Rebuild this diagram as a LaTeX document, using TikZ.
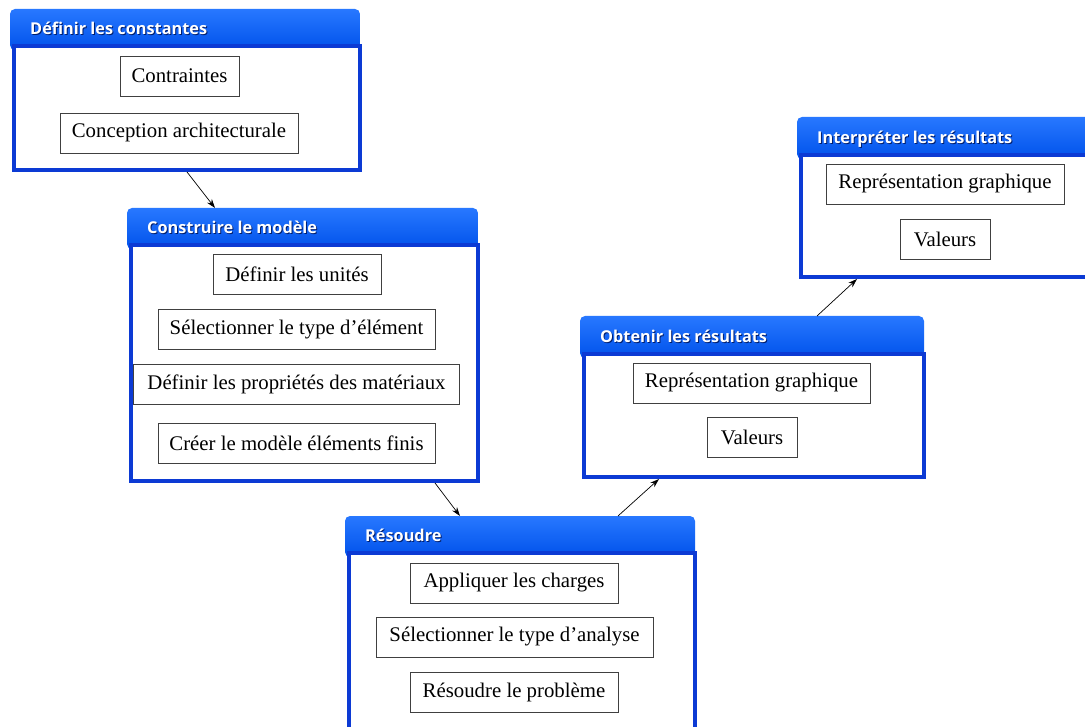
\documentclass[tikz,border=0pt]{standalone}
\usepackage{fontspec}
\setmainfont{Liberation Serif}
\newfontfamily\hdrfont{Open Sans}
\usetikzlibrary{arrows.meta}
\definecolor{hdrtop}{RGB}{40,120,255}
\definecolor{hdrbot}{RGB}{0,82,235}
\definecolor{framec}{RGB}{12,58,212}
\definecolor{shadowc}{RGB}{0,30,110}
\tikzset{
  hdrbox/.style={rectangle, rounded corners=5pt, top color=hdrtop, bottom color=hdrbot, draw=none, inner sep=0pt, outer sep=0pt, anchor=north west},
  bodybox/.style={rectangle, draw=framec, line width=4pt, fill=white, inner sep=0pt, anchor=north west},
  hdrtxt/.style={anchor=base west, inner sep=0pt, font=\hdrfont\bfseries\fontsize{16.3}{18}\selectfont},
  item/.style={rectangle, draw=black!75, line width=0.8pt, fill=white, minimum height=40pt, inner sep=0pt, font=\fontsize{20.8}{24}\selectfont},
  conn/.style={line width=0.7pt, -{Stealth[length=9pt,width=6pt]}}
}
\newcommand{\flowbox}[7]{%
  \node[hdrbox, minimum width={#4-#2}, minimum height={#5+6-#3}] (#1h) at (#2,#3) {};
  \node[bodybox, minimum width={#4-#2-4}, minimum height={#6-#5-2}] (#1) at ({#2+2},#5) {};
  \node[hdrtxt, text=shadowc] (#1s) at ({#2+21},{#5-8.5}) {#7};
  \node[hdrtxt, text=white] (#1t) at ({#2+20},{#5-9.5}) {#7};
}
\begin{document}
\begin{tikzpicture}[x=1pt,y=-1pt]
\useasboundingbox[fill=white] (0,0) rectangle (1085,727);
\flowbox{b1}{10}{9}{360}{44}{170}{Définir les constantes}
\flowbox{b2}{127}{208}{478}{243}{481}{Construire le modèle}
\flowbox{b3}{345}{516}{695}{551}{745}{Résoudre}
\flowbox{b4}{580}{316}{924}{352}{477}{Obtenir les résultats}
\flowbox{b5}{797}{117}{1110}{153}{277}{Interpréter les résultats}

\node[item, minimum width=119pt] (i11) at (179.5,76) {Contraintes};
\node[item, minimum width=238pt] (i12) at (179,133) {Conception architecturale};

\node[item, minimum width=168pt] (i21) at (297,274.5) {Définir les unités};
\node[item, minimum width=277pt] (i22) at (296.5,329.5) {Sélectionner le type d’élément};
\node[item, minimum width=326pt] (i23) at (296.5,384) {Définir les propriétés des matériaux};
\node[item, minimum width=277pt] (i24) at (296.5,443) {Créer le modèle éléments finis};

\node[item, minimum width=208pt] (i31) at (514,583) {Appliquer les charges};
\node[item, minimum width=277pt] (i32) at (514.5,637) {Sélectionner le type d’analyse};
\node[item, minimum width=208pt] (i33) at (514,692) {Résoudre le problème};

\node[item, minimum width=237pt] (i41) at (751.5,383) {Représentation graphique};
\node[item, minimum width=90pt] (i42) at (752,437.5) {Valeurs};

\node[item, minimum width=238pt] (i51) at (945,184) {Représentation graphique};
\node[item, minimum width=90pt] (i52) at (945,239) {Valeurs};

\draw[conn] (b1.south) -- ([xshift=88pt]b2h.north west);
\draw[conn] ([xshift=306pt]b2.south west) -- ([xshift=115pt]b3h.north west);
\draw[conn] ([xshift=273pt]b3h.north west) -- ([xshift=77pt]b4.south west);
\draw[conn] ([xshift=237pt]b4h.north west) -- ([xshift=58pt]b5.south west);
\end{tikzpicture}
\end{document}
